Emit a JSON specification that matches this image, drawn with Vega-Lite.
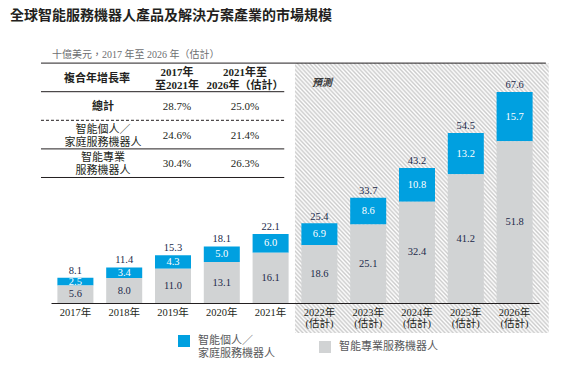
{
  "$schema": "https://vega.github.io/schema/vega-lite/v6.json",
  "autosize": "none",
  "width": 488,
  "height": 250,
  "padding": {"left": 51, "top": 53, "right": 22, "bottom": 62},
  "background": "white",
  "config": {"view": {"stroke": null}, "font": "Noto Sans CJK TC"},
  "title": {
    "text": "全球智能服務機器人產品及解決方案產業的市場規模",
    "anchor": "start",
    "frame": "group",
    "dx": -41,
    "offset": 27,
    "font": "Noto Sans CJK TC",
    "fontSize": 14,
    "fontWeight": "bold",
    "color": "#231f20"
  },
  "datasets": {
    "market": [
      {"year": "2017", "segment": "智能個人／家庭服務機器人", "value": 2.5},
      {"year": "2017", "segment": "智能專業服務機器人", "value": 5.6},
      {"year": "2018", "segment": "智能個人／家庭服務機器人", "value": 3.4},
      {"year": "2018", "segment": "智能專業服務機器人", "value": 8.0},
      {"year": "2019", "segment": "智能個人／家庭服務機器人", "value": 4.3},
      {"year": "2019", "segment": "智能專業服務機器人", "value": 11.0},
      {"year": "2020", "segment": "智能個人／家庭服務機器人", "value": 5.0},
      {"year": "2020", "segment": "智能專業服務機器人", "value": 13.1},
      {"year": "2021", "segment": "智能個人／家庭服務機器人", "value": 6.0},
      {"year": "2021", "segment": "智能專業服務機器人", "value": 16.1},
      {"year": "2022", "segment": "智能個人／家庭服務機器人", "value": 6.9},
      {"year": "2022", "segment": "智能專業服務機器人", "value": 18.6},
      {"year": "2023", "segment": "智能個人／家庭服務機器人", "value": 8.6},
      {"year": "2023", "segment": "智能專業服務機器人", "value": 25.1},
      {"year": "2024", "segment": "智能個人／家庭服務機器人", "value": 10.8},
      {"year": "2024", "segment": "智能專業服務機器人", "value": 32.4},
      {"year": "2025", "segment": "智能個人／家庭服務機器人", "value": 13.2},
      {"year": "2025", "segment": "智能專業服務機器人", "value": 41.2},
      {"year": "2026", "segment": "智能個人／家庭服務機器人", "value": 15.7},
      {"year": "2026", "segment": "智能專業服務機器人", "value": 51.8}
    ],
    "totals": [
      {"year": "2017", "total": 8.1},
      {"year": "2018", "total": 11.4},
      {"year": "2019", "total": 15.3},
      {"year": "2020", "total": 18.1},
      {"year": "2021", "total": 22.1},
      {"year": "2022", "total": 25.4},
      {"year": "2023", "total": 33.7},
      {"year": "2024", "total": 43.2},
      {"year": "2025", "total": 54.5},
      {"year": "2026", "total": 67.6}
    ],
    "cagr": [
      {"row": 0, "c0": "複合年增長率", "c1": "2017年\n至2021年", "c2": "2021年至\n2026年（估計）"},
      {"row": 1, "c0": "總計", "c1": "28.7%", "c2": "25.0%"},
      {"row": 2, "c0": "智能個人／\n家庭服務機器人", "c1": "24.6%", "c2": "21.4%"},
      {"row": 3, "c0": "智能專業\n服務機器人", "c1": "30.4%", "c2": "26.3%"}
    ]
  },
  "resolve": {"scale": {"x": "independent", "y": "independent"}, "axis": {"x": "independent", "y": "independent"}},
  "layer": [
    {
      "layer": [
        {
          "data": {"values": [{"phase": "預測"}]},
          "mark": {"type": "rect", "fill": {"gradient": "linear", "x1": 0, "y1": 1, "x2": 1, "y2": 0, "stops": [
            {"offset":0,"color":"#ccc"},{"offset":0.004,"color":"#fff"},{"offset":0.008,"color":"#ccc"},{"offset":0.012,"color":"#fff"},{"offset":0.016,"color":"#ccc"},{"offset":0.02,"color":"#fff"},{"offset":0.024,"color":"#ccc"},{"offset":0.028,"color":"#fff"},{"offset":0.032,"color":"#ccc"},{"offset":0.036,"color":"#fff"},
            {"offset":0.04,"color":"#ccc"},{"offset":0.044,"color":"#fff"},{"offset":0.048,"color":"#ccc"},{"offset":0.052,"color":"#fff"},{"offset":0.056,"color":"#ccc"},{"offset":0.06,"color":"#fff"},{"offset":0.064,"color":"#ccc"},{"offset":0.068,"color":"#fff"},{"offset":0.072,"color":"#ccc"},{"offset":0.076,"color":"#fff"},
            {"offset":0.08,"color":"#ccc"},{"offset":0.084,"color":"#fff"},{"offset":0.088,"color":"#ccc"},{"offset":0.092,"color":"#fff"},{"offset":0.096,"color":"#ccc"},{"offset":0.1,"color":"#fff"},{"offset":0.104,"color":"#ccc"},{"offset":0.108,"color":"#fff"},{"offset":0.112,"color":"#ccc"},{"offset":0.116,"color":"#fff"},
            {"offset":0.12,"color":"#ccc"},{"offset":0.124,"color":"#fff"},{"offset":0.128,"color":"#ccc"},{"offset":0.132,"color":"#fff"},{"offset":0.136,"color":"#ccc"},{"offset":0.14,"color":"#fff"},{"offset":0.144,"color":"#ccc"},{"offset":0.148,"color":"#fff"},{"offset":0.152,"color":"#ccc"},{"offset":0.156,"color":"#fff"},
            {"offset":0.16,"color":"#ccc"},{"offset":0.164,"color":"#fff"},{"offset":0.168,"color":"#ccc"},{"offset":0.172,"color":"#fff"},{"offset":0.176,"color":"#ccc"},{"offset":0.18,"color":"#fff"},{"offset":0.184,"color":"#ccc"},{"offset":0.188,"color":"#fff"},{"offset":0.192,"color":"#ccc"},{"offset":0.196,"color":"#fff"},
            {"offset":0.2,"color":"#ccc"},{"offset":0.204,"color":"#fff"},{"offset":0.208,"color":"#ccc"},{"offset":0.212,"color":"#fff"},{"offset":0.216,"color":"#ccc"},{"offset":0.22,"color":"#fff"},{"offset":0.224,"color":"#ccc"},{"offset":0.228,"color":"#fff"},{"offset":0.232,"color":"#ccc"},{"offset":0.236,"color":"#fff"},
            {"offset":0.24,"color":"#ccc"},{"offset":0.244,"color":"#fff"},{"offset":0.248,"color":"#ccc"},{"offset":0.252,"color":"#fff"},{"offset":0.256,"color":"#ccc"},{"offset":0.26,"color":"#fff"},{"offset":0.264,"color":"#ccc"},{"offset":0.268,"color":"#fff"},{"offset":0.272,"color":"#ccc"},{"offset":0.276,"color":"#fff"},
            {"offset":0.28,"color":"#ccc"},{"offset":0.284,"color":"#fff"},{"offset":0.288,"color":"#ccc"},{"offset":0.292,"color":"#fff"},{"offset":0.296,"color":"#ccc"},{"offset":0.3,"color":"#fff"},{"offset":0.304,"color":"#ccc"},{"offset":0.308,"color":"#fff"},{"offset":0.312,"color":"#ccc"},{"offset":0.316,"color":"#fff"},
            {"offset":0.32,"color":"#ccc"},{"offset":0.324,"color":"#fff"},{"offset":0.328,"color":"#ccc"},{"offset":0.332,"color":"#fff"},{"offset":0.336,"color":"#ccc"},{"offset":0.34,"color":"#fff"},{"offset":0.344,"color":"#ccc"},{"offset":0.348,"color":"#fff"},{"offset":0.352,"color":"#ccc"},{"offset":0.356,"color":"#fff"},
            {"offset":0.36,"color":"#ccc"},{"offset":0.364,"color":"#fff"},{"offset":0.368,"color":"#ccc"},{"offset":0.372,"color":"#fff"},{"offset":0.376,"color":"#ccc"},{"offset":0.38,"color":"#fff"},{"offset":0.384,"color":"#ccc"},{"offset":0.388,"color":"#fff"},{"offset":0.392,"color":"#ccc"},{"offset":0.396,"color":"#fff"},
            {"offset":0.4,"color":"#ccc"},{"offset":0.404,"color":"#fff"},{"offset":0.408,"color":"#ccc"},{"offset":0.412,"color":"#fff"},{"offset":0.416,"color":"#ccc"},{"offset":0.42,"color":"#fff"},{"offset":0.424,"color":"#ccc"},{"offset":0.428,"color":"#fff"},{"offset":0.432,"color":"#ccc"},{"offset":0.436,"color":"#fff"},
            {"offset":0.44,"color":"#ccc"},{"offset":0.444,"color":"#fff"},{"offset":0.448,"color":"#ccc"},{"offset":0.452,"color":"#fff"},{"offset":0.456,"color":"#ccc"},{"offset":0.46,"color":"#fff"},{"offset":0.464,"color":"#ccc"},{"offset":0.468,"color":"#fff"},{"offset":0.472,"color":"#ccc"},{"offset":0.476,"color":"#fff"},
            {"offset":0.48,"color":"#ccc"},{"offset":0.484,"color":"#fff"},{"offset":0.488,"color":"#ccc"},{"offset":0.492,"color":"#fff"},{"offset":0.496,"color":"#ccc"},{"offset":0.5,"color":"#fff"},{"offset":0.504,"color":"#ccc"},{"offset":0.508,"color":"#fff"},{"offset":0.512,"color":"#ccc"},{"offset":0.516,"color":"#fff"},
            {"offset":0.52,"color":"#ccc"},{"offset":0.524,"color":"#fff"},{"offset":0.528,"color":"#ccc"},{"offset":0.532,"color":"#fff"},{"offset":0.536,"color":"#ccc"},{"offset":0.54,"color":"#fff"},{"offset":0.544,"color":"#ccc"},{"offset":0.548,"color":"#fff"},{"offset":0.552,"color":"#ccc"},{"offset":0.556,"color":"#fff"},
            {"offset":0.56,"color":"#ccc"},{"offset":0.564,"color":"#fff"},{"offset":0.568,"color":"#ccc"},{"offset":0.572,"color":"#fff"},{"offset":0.576,"color":"#ccc"},{"offset":0.58,"color":"#fff"},{"offset":0.584,"color":"#ccc"},{"offset":0.588,"color":"#fff"},{"offset":0.592,"color":"#ccc"},{"offset":0.596,"color":"#fff"},
            {"offset":0.6,"color":"#ccc"},{"offset":0.604,"color":"#fff"},{"offset":0.608,"color":"#ccc"},{"offset":0.612,"color":"#fff"},{"offset":0.616,"color":"#ccc"},{"offset":0.62,"color":"#fff"},{"offset":0.624,"color":"#ccc"},{"offset":0.628,"color":"#fff"},{"offset":0.632,"color":"#ccc"},{"offset":0.636,"color":"#fff"},
            {"offset":0.64,"color":"#ccc"},{"offset":0.644,"color":"#fff"},{"offset":0.648,"color":"#ccc"},{"offset":0.652,"color":"#fff"},{"offset":0.656,"color":"#ccc"},{"offset":0.66,"color":"#fff"},{"offset":0.664,"color":"#ccc"},{"offset":0.668,"color":"#fff"},{"offset":0.672,"color":"#ccc"},{"offset":0.676,"color":"#fff"},
            {"offset":0.68,"color":"#ccc"},{"offset":0.684,"color":"#fff"},{"offset":0.688,"color":"#ccc"},{"offset":0.692,"color":"#fff"},{"offset":0.696,"color":"#ccc"},{"offset":0.7,"color":"#fff"},{"offset":0.704,"color":"#ccc"},{"offset":0.708,"color":"#fff"},{"offset":0.712,"color":"#ccc"},{"offset":0.716,"color":"#fff"},
            {"offset":0.72,"color":"#ccc"},{"offset":0.724,"color":"#fff"},{"offset":0.728,"color":"#ccc"},{"offset":0.732,"color":"#fff"},{"offset":0.736,"color":"#ccc"},{"offset":0.74,"color":"#fff"},{"offset":0.744,"color":"#ccc"},{"offset":0.748,"color":"#fff"},{"offset":0.752,"color":"#ccc"},{"offset":0.756,"color":"#fff"},
            {"offset":0.76,"color":"#ccc"},{"offset":0.764,"color":"#fff"},{"offset":0.768,"color":"#ccc"},{"offset":0.772,"color":"#fff"},{"offset":0.776,"color":"#ccc"},{"offset":0.78,"color":"#fff"},{"offset":0.784,"color":"#ccc"},{"offset":0.788,"color":"#fff"},{"offset":0.792,"color":"#ccc"},{"offset":0.796,"color":"#fff"},
            {"offset":0.8,"color":"#ccc"},{"offset":0.804,"color":"#fff"},{"offset":0.808,"color":"#ccc"},{"offset":0.812,"color":"#fff"},{"offset":0.816,"color":"#ccc"},{"offset":0.82,"color":"#fff"},{"offset":0.824,"color":"#ccc"},{"offset":0.828,"color":"#fff"},{"offset":0.832,"color":"#ccc"},{"offset":0.836,"color":"#fff"},
            {"offset":0.84,"color":"#ccc"},{"offset":0.844,"color":"#fff"},{"offset":0.848,"color":"#ccc"},{"offset":0.852,"color":"#fff"},{"offset":0.856,"color":"#ccc"},{"offset":0.86,"color":"#fff"},{"offset":0.864,"color":"#ccc"},{"offset":0.868,"color":"#fff"},{"offset":0.872,"color":"#ccc"},{"offset":0.876,"color":"#fff"},
            {"offset":0.88,"color":"#ccc"},{"offset":0.884,"color":"#fff"},{"offset":0.888,"color":"#ccc"},{"offset":0.892,"color":"#fff"},{"offset":0.896,"color":"#ccc"},{"offset":0.9,"color":"#fff"},{"offset":0.904,"color":"#ccc"},{"offset":0.908,"color":"#fff"},{"offset":0.912,"color":"#ccc"},{"offset":0.916,"color":"#fff"},
            {"offset":0.92,"color":"#ccc"},{"offset":0.924,"color":"#fff"},{"offset":0.928,"color":"#ccc"},{"offset":0.932,"color":"#fff"},{"offset":0.936,"color":"#ccc"},{"offset":0.94,"color":"#fff"},{"offset":0.944,"color":"#ccc"},{"offset":0.948,"color":"#fff"},{"offset":0.952,"color":"#ccc"},{"offset":0.956,"color":"#fff"},
            {"offset":0.96,"color":"#ccc"},{"offset":0.964,"color":"#fff"},{"offset":0.968,"color":"#ccc"},{"offset":0.972,"color":"#fff"},{"offset":0.976,"color":"#ccc"},{"offset":0.98,"color":"#fff"},{"offset":0.984,"color":"#ccc"},{"offset":0.988,"color":"#fff"},{"offset":0.992,"color":"#ccc"},{"offset":0.996,"color":"#fff"},
            {"offset":1,"color":"#ccc"}
          ]}},
          "encoding": {
            "x": {"datum": 5.0, "type": "quantitative", "scale": {"domain": [0, 10], "nice": false, "zero": false}, "axis": null},
            "x2": {"datum": 10.2},
            "y": {"datum": -0.5, "type": "quantitative", "scale": {"domain": [-0.853, 7.888], "reverse": true, "nice": false, "zero": false}, "axis": null},
            "y2": {"datum": 8.94}
          }
        },
        {
          "data": {"values": [{"label": "預測"}]},
          "mark": {"type": "text", "align": "left", "baseline": "middle", "font": "Noto Sans CJK TC", "fontSize": 10, "fontStyle": "italic", "fontWeight": "bold", "color": "#3a3a3a"},
          "encoding": {
            "x": {"datum": 5.35, "type": "quantitative"},
            "y": {"datum": 0.2, "type": "quantitative"},
            "text": {"field": "label"}
          }
        },
        {
          "data": {"values": [{"label": "十億美元，2017 年至 2026 年（估計）"}]},
          "mark": {"type": "text", "align": "left", "baseline": "middle", "font": "Liberation Serif, Noto Sans CJK TC", "fontSize": 10, "color": "#6d6e71"},
          "encoding": {
            "x": {"datum": 0.02, "type": "quantitative"},
            "y": {"datum": -0.8, "type": "quantitative"},
            "text": {"field": "label"}
          }
        },
        {
          "data": {"values": [{"edge": "top"}]},
          "mark": {"type": "rule", "color": "#231f20", "strokeWidth": 1},
          "encoding": {
            "x": {"datum": -0.205, "type": "quantitative"},
            "x2": {"datum": 10.14},
            "y": {"datum": -0.5, "type": "quantitative"}
          }
        },
        {
          "data": {"values": [{"boundary": 0.5}, {"boundary": 2.5}, {"boundary": 3.5}]},
          "mark": {"type": "rule", "color": "#231f20", "strokeWidth": 1},
          "encoding": {
            "x": {"datum": -0.205, "type": "quantitative"},
            "x2": {"datum": 4.78},
            "y": {"field": "boundary", "type": "quantitative"}
          }
        },
        {
          "data": {"values": [{"boundary": 1.5}]},
          "mark": {"type": "rule", "color": "#231f20", "strokeWidth": 1, "strokeDash": [3, 2]},
          "encoding": {
            "x": {"datum": -0.205, "type": "quantitative"},
            "x2": {"datum": 4.78},
            "y": {"field": "boundary", "type": "quantitative"}
          }
        },
        {
          "data": {"name": "cagr"},
          "transform": [{"filter": "datum.row == 0"}],
          "mark": {"type": "text", "baseline": "middle", "dy": 1.5, "font": "Liberation Serif, Noto Sans CJK TC", "fontSize": 11, "fontWeight": "bold", "color": "#231f20"},
          "encoding": {"x": {"datum": 0.943, "type": "quantitative"}, "y": {"field": "row", "type": "quantitative"}, "text": {"field": "c0"}}
        },
        {
          "data": {"name": "cagr"},
          "transform": [{"filter": "datum.row == 1"}],
          "mark": {"type": "text", "baseline": "middle", "dy": 1.5, "font": "Liberation Serif, Noto Sans CJK TC", "fontSize": 11, "fontWeight": "bold", "color": "#231f20"},
          "encoding": {"x": {"datum": 1.066, "type": "quantitative"}, "y": {"field": "row", "type": "quantitative"}, "text": {"field": "c0"}}
        },
        {
          "data": {"name": "cagr"},
          "transform": [{"filter": "datum.row >= 2"}],
          "mark": {"type": "text", "baseline": "middle", "dy": -5, "lineBreak": "\n", "lineHeight": 13, "font": "Liberation Serif, Noto Sans CJK TC", "fontSize": 11, "color": "#231f20"},
          "encoding": {"x": {"datum": 1.066, "type": "quantitative"}, "y": {"field": "row", "type": "quantitative"}, "text": {"field": "c0"}}
        },
        {
          "data": {"name": "cagr"},
          "transform": [{"filter": "datum.row == 0"}],
          "mark": {"type": "text", "baseline": "middle", "dy": -4, "lineBreak": "\n", "lineHeight": 13, "font": "Liberation Serif, Noto Sans CJK TC", "fontSize": 11, "fontWeight": "bold", "color": "#231f20"},
          "encoding": {"x": {"datum": 2.582, "type": "quantitative"}, "y": {"field": "row", "type": "quantitative"}, "text": {"field": "c1"}}
        },
        {
          "data": {"name": "cagr"},
          "transform": [{"filter": "datum.row >= 1"}],
          "mark": {"type": "text", "baseline": "middle", "dy": 1, "font": "Liberation Serif, Noto Sans CJK TC", "fontSize": 11, "color": "#231f20"},
          "encoding": {"x": {"datum": 2.582, "type": "quantitative"}, "y": {"field": "row", "type": "quantitative"}, "text": {"field": "c1"}}
        },
        {
          "data": {"name": "cagr"},
          "transform": [{"filter": "datum.row == 0"}],
          "mark": {"type": "text", "baseline": "middle", "dy": -4, "lineBreak": "\n", "lineHeight": 13, "font": "Liberation Serif, Noto Sans CJK TC", "fontSize": 11, "fontWeight": "bold", "color": "#231f20"},
          "encoding": {"x": {"datum": 3.975, "type": "quantitative"}, "y": {"field": "row", "type": "quantitative"}, "text": {"field": "c2"}}
        },
        {
          "data": {"name": "cagr"},
          "transform": [{"filter": "datum.row >= 1"}],
          "mark": {"type": "text", "baseline": "middle", "dy": 1, "font": "Liberation Serif, Noto Sans CJK TC", "fontSize": 11, "color": "#231f20"},
          "encoding": {"x": {"datum": 3.975, "type": "quantitative"}, "y": {"field": "row", "type": "quantitative"}, "text": {"field": "c2"}}
        }
      ]
    },
    {
      "data": {"name": "market"},
      "encoding": {
        "x": {
          "field": "year",
          "type": "nominal",
          "sort": null,
          "scale": {"paddingInner": 0.262, "paddingOuter": 0.131},
          "axis": {
            "orient": "bottom",
            "title": null,
            "grid": false,
            "ticks": false,
            "domainColor": "#231f20",
            "domainWidth": 1,
            "labelAngle": 0,
            "labelPadding": 4,
            "labelFont": "Liberation Serif, Noto Sans CJK TC",
            "labelFontSize": 10.5,
            "labelColor": "#231f20",
            "labelLineHeight": 11,
            "labelExpr": "toNumber(datum.value) >= 2022 ? [datum.value + '年', '(估計)'] : datum.value + '年'",
            "zindex": 1
          }
        }
      },
      "layer": [
        {
          "mark": {"type": "bar"},
          "encoding": {
            "y": {"field": "value", "type": "quantitative", "stack": "zero", "scale": {"domain": [0, 80], "nice": false, "zero": true}, "axis": null},
            "color": {
              "field": "segment",
              "type": "nominal",
              "scale": {"domain": ["智能個人／家庭服務機器人", "智能專業服務機器人"], "range": ["#00a0e0", "#d1d3d4"]},
              "legend": {
                "orient": "none",
                "legendX": 127,
                "legendY": 282,
                "direction": "horizontal",
                "title": null,
                "padding": 0,
                "symbolType": "square",
                "symbolSize": 144,
                "symbolStrokeWidth": 0,
                "symbolOpacity": 1,
                "labelFont": "Noto Sans CJK TC",
                "labelFontSize": 11,
                "labelColor": "#58595b",
                "labelOffset": 8,
                "labelLimit": 200,
                "labelBaseline": "middle",
                "columnPadding": 44,
                "labelExpr": "datum.label == '智能個人／家庭服務機器人' ? ['智能個人／', '家庭服務機器人'] : datum.label"
              }
            },
            "order": {"field": "segment", "type": "ordinal", "sort": "descending"}
          }
        },
        {
          "mark": {"type": "text", "baseline": "middle", "font": "Liberation Serif", "fontSize": 10.5},
          "encoding": {
            "y": {"field": "value", "type": "quantitative", "stack": "zero", "bandPosition": 0.5},
            "text": {"field": "value", "type": "quantitative", "format": ".1f"},
            "color": {"condition": {"test": "datum.segment == '智能專業服務機器人'", "value": "#222a4a"}, "value": "#ffffff"},
            "order": {"field": "segment", "type": "ordinal", "sort": "descending"}
          }
        },
        {
          "data": {"name": "totals"},
          "mark": {"type": "text", "baseline": "middle", "dy": -7, "font": "Liberation Serif", "fontSize": 10.5, "color": "#222a4a"},
          "encoding": {
            "y": {"field": "total", "type": "quantitative"},
            "text": {"field": "total", "type": "quantitative", "format": ".1f"}
          }
        }
      ]
    }
  ]
}
